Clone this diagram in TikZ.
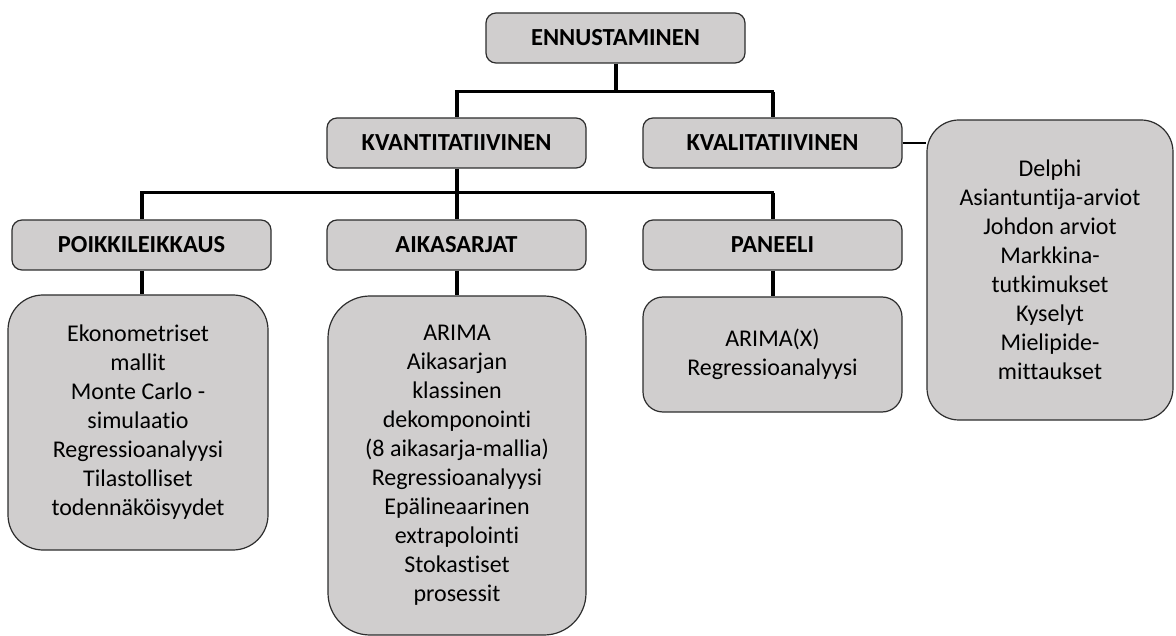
\documentclass[tikz,border=0pt]{standalone}
\usepackage{fontspec}
\setmainfont{Carlito}[RawFeature={-liga;-clig;-calt}]
\usepackage{tikz}
\definecolor{boxgray}{RGB}{208,206,206}
\definecolor{edgegray}{RGB}{45,45,45}

\tikzset{
    headbox/.style={draw=edgegray, line width=1.2pt, fill=boxgray, rounded corners=10pt,
        minimum width=259pt, minimum height=50pt, inner sep=0pt,
        font=\fontsize{24.5}{29}\selectfont\bfseries},
    listbox/.style={draw=edgegray, line width=1.2pt, fill=boxgray, align=center, inner sep=0pt,
        font=\fontsize{24}{29}\selectfont},
    stem/.style={line width=4pt},
    bar/.style={line width=3pt, line cap=rect}
}

\begin{document}
\begin{tikzpicture}[x=1pt, y=-1pt]
    \useasboundingbox (0,0) rectangle (1176,636);

    % TOP: root and first level
    \node[headbox] (enn) at (615.5, 38) {ENNUSTAMINEN};
    \node[headbox] (kvant) at (456.5, 143) {KVANTITATIIVINEN};
    \node[headbox] (kvali) at (772.5, 143) {KVALITATIIVINEN};
    \coordinate (hubtop) at (615.5, 92);
    \draw[stem] (enn.south) -- (enn.south |- hubtop);
    \draw[bar] (kvant.north |- hubtop) -- (kvali.north |- hubtop);
    \draw[stem] (kvant.north |- hubtop) -- (kvant.north);
    \draw[stem] (kvali.north |- hubtop) -- (kvali.north);

    % RIGHT: qualitative methods
    \node[listbox, rounded corners=32pt, minimum width=246pt, minimum height=300pt] (delphi) at (1050, 270)
        {Delphi\\Asiantuntija-arviot\\Johdon arviot\\Markkina-\\tutkimukset\\Kyselyt\\Mielipide-\\mittaukset};
    \draw[line width=2pt] (kvali.east) -- (kvali.east -| delphi.west);

    % MIDDLE: quantitative branches
    \node[headbox] (poik) at (141.5, 245) {POIKKILEIKKAUS};
    \node[headbox] (aika) at (456.5, 245) {AIKASARJAT};
    \node[headbox] (pan) at (772.5, 245) {PANEELI};
    \coordinate (hubmid) at (456.5, 193);
    \draw[stem] (kvant.south) -- (aika.north);
    \draw[bar] (poik.north |- hubmid) -- (pan.north |- hubmid);
    \draw[stem] (poik.north |- hubmid) -- (poik.north);
    \draw[stem] (pan.north |- hubmid) -- (pan.north);

    % BOTTOM: method lists
    \node[listbox, rounded corners=35pt, minimum width=260pt, minimum height=255pt] (ekon) at (138, 422.5)
        {Ekonometriset\\mallit\\Monte Carlo -\\simulaatio\\Regressioanalyysi\\Tilastolliset\\todennäköisyydet};
    \node[listbox, rounded corners=42pt, minimum width=258pt, minimum height=339pt] (aikal) at (457, 465.5)
        {ARIMA\\Aikasarjan\\klassinen\\dekomponointi\\(8 aikasarja-mallia)\\Regressioanalyysi\\Epälineaarinen\\extrapolointi\\Stokastiset\\prosessit};
    \node[listbox, rounded corners=20pt, minimum width=259pt, minimum height=115pt] (panl) at (772.5, 354.5)
        {ARIMA(X)\\Regressioanalyysi};
    \draw[stem] (poik.south) -- (poik.south |- ekon.north);
    \draw[stem] (aika.south) -- (aika.south |- aikal.north);
    \draw[stem] (pan.south) -- (pan.south |- panl.north);
\end{tikzpicture}
\end{document}
